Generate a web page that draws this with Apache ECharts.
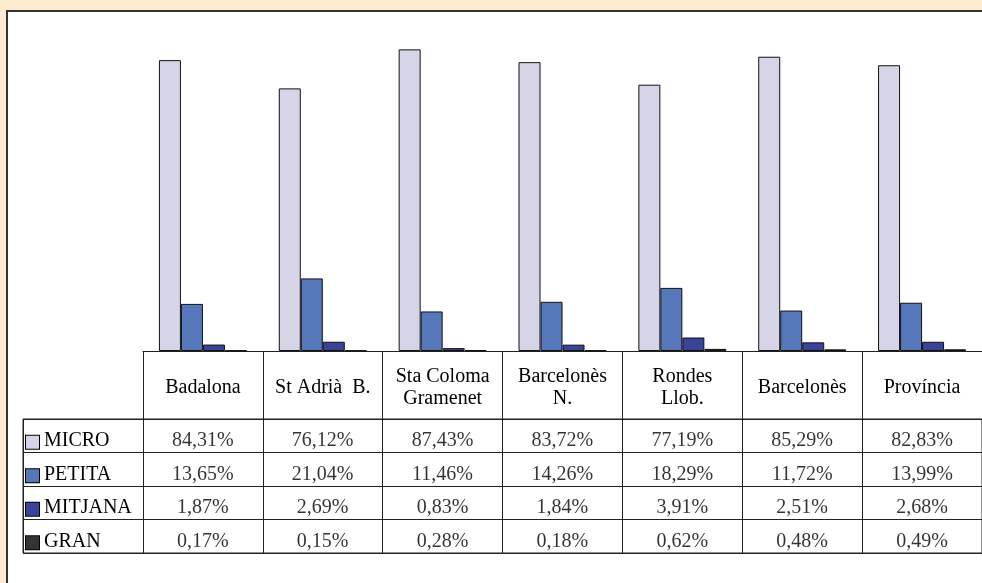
<!DOCTYPE html>
<html lang="en">
<head>
    <meta charset="UTF-8">
    <title>empreses</title>
    <script src="https://cdn.jsdelivr.net/npm/echarts@6/dist/echarts.min.js"></script>
    <style>
        html, body { margin: 0; padding: 0; }
        #main { width: 982px; height: 583px; }
    </style>
</head>
<body>
<div id="main"></div>
<script>
    // data
    var categories = ['Badalona', 'St Adrià  B.', 'Sta Coloma\nGramenet', 'Barcelonès\nN.', 'Rondes\nLlob.', 'Barcelonès', 'Província'];
    var seriesNames = ['MICRO', 'PETITA', 'MITJANA', 'GRAN'];
    var micro = [84.31, 76.12, 87.43, 83.72, 77.19, 85.29, 82.83];
    var petita = [13.65, 21.04, 11.46, 14.26, 18.29, 11.72, 13.99];
    var mitjana = [1.87, 2.69, 0.83, 1.84, 3.91, 2.51, 2.68];
    var gran = [0.17, 0.15, 0.28, 0.18, 0.62, 0.48, 0.49];
    var colors = ['#D6D5E8', '#5677BA', '#3A4398', '#333333'];

    var font = 'Liberation Serif';
    var allValues = [micro, petita, mitjana, gran];

    function pct(v) {
        return v.toFixed(2).replace('.', ',') + '%';
    }

    // bars on grid 0
    var series = allValues.map(function (vals, i) {
        return {
            name: seriesNames[i],
            type: 'bar',
            xAxisIndex: 0,
            yAxisIndex: 0,
            data: vals,
            barWidth: 22,
            barGap: '0%',
            itemStyle: { color: colors[i], borderColor: '#111', borderWidth: 1 }
        };
    });

    // table cells on grid 1 (column 0 is the legend column)
    allValues.forEach(function (vals, i) {
        series.push({
            type: 'scatter',
            xAxisIndex: 1,
            yAxisIndex: 1,
            symbolSize: 1,
            silent: true,
            itemStyle: { color: 'transparent' },
            data: vals.map(function (v, j) { return [j + 1, i, v]; }),
            label: {
                show: true,
                position: 'inside',
                offset: [0, 5],
                fontFamily: font,
                fontSize: 20,
                color: '#000',
                formatter: function (p) { return pct(p.value[2]); }
            }
        });
    });

    var rich = { t: { fontFamily: font, fontSize: 20, color: '#000', padding: [0, 0, 3, 5] } };
    colors.forEach(function (c, i) {
        rich['s' + i] = { width: 13, height: 13, backgroundColor: c, borderColor: '#000', borderWidth: 1 };
    });

    var myChart = echarts.init(document.getElementById('main'));
    myChart.setOption({
        backgroundColor: '#FCEBCF',
        animation: false,
        graphic: [{
            type: 'rect',
            z: -10,
            shape: { x: 7, y: 11, width: 1000, height: 600 },
            style: { fill: '#fff', stroke: '#333', lineWidth: 2 }
        }],
        grid: [
            { left: 143, right: -1, top: 6, bottom: 232 },
            { left: 23, right: -1, top: 419, bottom: 30, show: true, borderColor: '#222', borderWidth: 1 }
        ],
        xAxis: [{
            type: 'category',
            gridIndex: 0,
            data: categories,
            axisLine: { show: true, lineStyle: { color: '#222', width: 1 } },
            axisTick: { show: true, interval: 0, alignWithLabel: false, length: 68, lineStyle: { color: '#222', width: 1 } },
            axisLabel: {
                interval: 0,
                margin: 37,
                verticalAlign: 'middle',
                lineHeight: 22,
                fontFamily: font,
                fontSize: 20,
                color: '#000'
            }
        }, {
            type: 'category',
            gridIndex: 1,
            data: [''].concat(categories),
            axisLine: { show: false },
            axisTick: { show: false },
            axisLabel: { show: false, interval: 0 },
            splitLine: { show: true, interval: 0, lineStyle: { color: '#222' } }
        }],
        yAxis: [{
            type: 'value',
            gridIndex: 0,
            min: 0,
            max: 100,
            show: false
        }, {
            type: 'category',
            gridIndex: 1,
            inverse: true,
            data: seriesNames,
            axisLine: { show: false },
            axisTick: { show: false },
            splitLine: { show: true, interval: 0, lineStyle: { color: '#222' } },
            axisLabel: {
                inside: true,
                margin: 3,
                interval: 0,
                padding: [13, 0, 0, 0],
                formatter: function (v, i) { return '{s' + i + '|}{t|' + v + '}'; },
                rich: rich
            }
        }],
        series: series
    });
</script>
</body>
</html>
